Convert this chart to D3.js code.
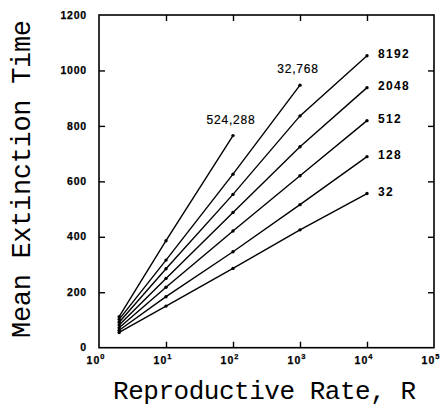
<!DOCTYPE html>
<html><head><meta charset="utf-8">
<script src="https://cdn.jsdelivr.net/npm/d3@7"></script>
<style>
html,body{margin:0;padding:0;background:#fff;}
svg{display:block;}
</style></head>
<body>
<svg id="chart" width="445" height="415"></svg>
<script>
// ---- data ----
const rates = [2, 10, 100, 1000, 10000];
const seriesNames = ["32", "128", "512", "2048", "8192", "32,768", "524,288"];
const s32     = [55, 150, 286, 425, 556];
const s128    = [63, 184, 346, 516, 689];
const s512    = [72, 218, 421, 620, 819];
const s2048   = [82, 250, 488, 725, 938];
const s8192   = [92, 285, 553, 836, 1053];
const s32768  = [102, 316, 626, 947];
const s524288 = [112, 386, 765];
const seriesValues = [s32, s128, s512, s2048, s8192, s32768, s524288];
const labelSide = ["right", "right", "right", "right", "right", "top", "top"];
const xTickExps = [0, 1, 2, 3, 4, 5];
const yTicks = [0, 200, 400, 600, 800, 1000, 1200];
const xTitle = "Reproductive Rate, R";
const yTitle = "Mean Extinction Time";

// ---- layout ----
const L = 99, R = 434, T = 15, B = 347.7;
const svg = d3.select("#chart");
const x = d3.scaleLog().domain([1, 1e5]).range([L, R]);
const y = d3.scaleLinear().domain([0, 1200]).range([B, T]);
const tickLen = 6;

// frame
svg.append("rect").attr("x", L).attr("y", T).attr("width", R - L).attr("height", B - T)
  .attr("fill", "none").attr("stroke", "#000").attr("stroke-width", 1.6);

// axes (inward ticks) via d3 axes
const xVals = xTickExps.map(e => Math.pow(10, e));
const innerX = xVals.filter((v, i) => i > 0 && i < xVals.length - 1);
const innerY = yTicks.filter((v, i) => i > 0 && i < yTicks.length - 1);

const gxb = svg.append("g").attr("transform", `translate(0,${B})`)
  .call(d3.axisTop(x).tickValues(innerX).tickSize(tickLen).tickFormat(""));
const gxt = svg.append("g").attr("transform", `translate(0,${T})`)
  .call(d3.axisBottom(x).tickValues(innerX).tickSize(tickLen).tickFormat(""));
const gyl = svg.append("g").attr("transform", `translate(${L},0)`)
  .call(d3.axisRight(y).tickValues(innerY).tickSize(tickLen).tickFormat(""));
const gyr = svg.append("g").attr("transform", `translate(${R},0)`)
  .call(d3.axisLeft(y).tickValues(innerY).tickSize(tickLen).tickFormat(""));
[gxb, gxt, gyl, gyr].forEach(g => {
  g.select(".domain").remove();
  g.selectAll("line").attr("stroke", "#000").attr("stroke-width", 1.4);
});

// y tick labels
svg.append("g").selectAll("text").data(yTicks).join("text")
  .attr("x", 87).attr("y", d => y(d)).attr("dy", "0.35em")
  .attr("text-anchor", "end")
  .attr("font-family", "Arial, 'Liberation Sans', sans-serif")
  .attr("font-weight", "bold").attr("font-size", 10.5).attr("letter-spacing", 0.8)
  .attr("stroke", "#000").attr("stroke-width", 0.25)
  .text(d => d);

// x tick labels 10^n
const xl = svg.append("g").selectAll("text").data(xTickExps).join("text")
  .attr("x", d => x(Math.pow(10, d)) - 3).attr("y", 364)
  .attr("text-anchor", "middle")
  .attr("font-family", "Arial, 'Liberation Sans', sans-serif")
  .attr("font-weight", "bold").attr("font-size", 10.5).attr("letter-spacing", 1)
  .attr("stroke", "#000").attr("stroke-width", 0.25);
xl.append("tspan").text("10");
xl.append("tspan").attr("dy", -5).attr("font-size", 7.5).text(d => d);

// lines
const line = d3.line().x((d, i) => x(rates[i])).y(d => y(d));
const gs = svg.append("g");
seriesValues.forEach((vals, k) => {
  gs.append("path").datum(vals).attr("d", line)
    .attr("fill", "none").attr("stroke", "#000").attr("stroke-width", 1.4);
  gs.append("g").selectAll("circle").data(vals).join("circle")
    .attr("cx", (d, i) => x(rates[i])).attr("cy", d => y(d)).attr("r", 1.7).attr("fill", "#000");
  const last = vals.length - 1;
  const ex = x(rates[last]), ey = y(vals[last]);
  const t = gs.append("text").text(seriesNames[k])
    .attr("font-family", "Arial, 'Liberation Sans', sans-serif");
  if (labelSide[k] === "right") {
    t.attr("x", ex + 11).attr("y", ey + 1.5).attr("dy", "0.1em")
     .attr("font-weight", "bold").attr("font-size", 12).attr("letter-spacing", 1.3);
  } else {
    t.attr("x", ex - 2).attr("y", ey - 12).attr("text-anchor", "middle")
     .attr("font-size", 12).attr("letter-spacing", 0.8).attr("stroke", "#000").attr("stroke-width", 0.2);
  }
});

// titles
svg.append("text").attr("x", 264.5).attr("y", 399)
  .attr("text-anchor", "middle")
  .attr("font-family", "'Courier New', 'Liberation Mono', monospace")
  .attr("font-size", 26)
  .attr("textLength", 303).attr("lengthAdjust", "spacing")
  .text(xTitle);
svg.append("text").attr("transform", "translate(30,179) rotate(-90)")
  .attr("text-anchor", "middle")
  .attr("font-family", "'Courier New', 'Liberation Mono', monospace")
  .attr("font-size", 27)
  .attr("textLength", 318).attr("lengthAdjust", "spacing")
  .text(yTitle);
</script>
</body></html>
